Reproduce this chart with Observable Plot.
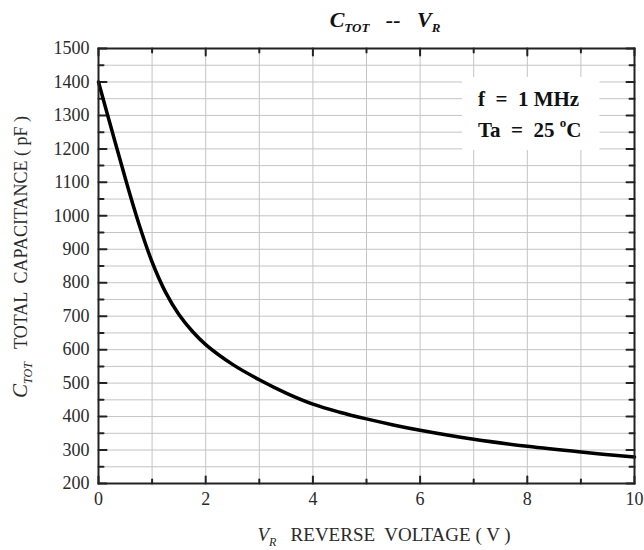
<!DOCTYPE html>
<html>
<head>
<meta charset="utf-8">
<script src="https://cdn.jsdelivr.net/npm/d3@7"></script>
<script src="https://cdn.jsdelivr.net/npm/@observablehq/plot@0.6"></script>
<style>
  html, body { margin: 0; padding: 0; background: #fff; }
</style>
</head>
<body>
<div id="chart"></div>
<script>
// ---- data ----
const voltage     = [0, 0.25, 0.5, 0.75, 1, 1.25, 1.5, 1.75, 2, 2.5, 3, 3.5, 4, 4.5, 5, 5.5, 6, 7, 8, 9, 10];
const capacitance = [1400, 1255, 1112, 978, 862, 772, 705, 655, 615, 556, 510, 470, 437, 413, 393, 375, 359, 332, 311, 294, 279];

const xMajorTicks = [0, 2, 4, 6, 8, 10];
const xMinorTicks = [1, 3, 5, 7, 9];
const yMajorTicks = [200, 300, 400, 500, 600, 700, 800, 900, 1000, 1100, 1200, 1300, 1400, 1500];
const yMinorTicks = [250, 350, 450, 550, 650, 750, 850, 950, 1050, 1150, 1250, 1350, 1450];
const xGrid = [1, 2, 3, 4, 5, 6, 7, 8, 9];
const yGrid = [250, 300, 350, 400, 450, 500, 550, 600, 650, 700, 750, 800, 850, 900, 950, 1000, 1050, 1100, 1150, 1200, 1250, 1300, 1350, 1400, 1450];

const titleParts = ["C", "TOT", "--", "V", "R"];
const xLabelParts = ["V", "R", "REVERSE  VOLTAGE ( V )"];
const yLabelParts = ["C", "TOT", "TOTAL  CAPACITANCE ( pF )"];
const legendLines = ["f  =  1 MHz", "Ta  =  25 ", "o", "C"];

const data = voltage.map((v, i) => ({v, c: capacitance[i]}));

const W = 644, H = 550;
const mL = 98, mR = 10, mT = 48, mB = 67;
const serif = "'Liberation Serif', 'DejaVu Serif', serif";
const gridColor = "#c4c4c4";
const axisColor = "#222";

// a plain straight tick, drawn by Plot's vector mark
const tickShape = {draw(context, l) { context.moveTo(0, 0); context.lineTo(0, -l); }};
const tickOpts = {shape: tickShape, anchor: "start", stroke: axisColor, strokeWidth: 2};

const svg = Plot.plot({
  width: W, height: H,
  marginLeft: mL, marginRight: mR, marginTop: mT, marginBottom: mB,
  style: {fontFamily: serif, fontSize: "18px", color: "#2a2a2a", background: "#fff"},
  x: {domain: [0, 10]},
  y: {domain: [200, 1500]},
  marks: [
    Plot.gridX(xGrid, {stroke: gridColor, strokeOpacity: 1, strokeWidth: 1}),
    Plot.gridY(yGrid, {stroke: gridColor, strokeOpacity: 1, strokeWidth: 1}),
    // tick labels
    Plot.axisX(xMajorTicks, {anchor: "bottom", tickSize: 0, tickPadding: 9, label: null, fontSize: 18}),
    Plot.axisY(yMajorTicks, {anchor: "left", tickSize: 0, tickPadding: 9, label: null, fontSize: 18, tickFormat: "d"}),
    // inward ticks
    Plot.vector(xMajorTicks, {x: d => d, frameAnchor: "bottom", length: 7, rotate: 0, ...tickOpts}),
    Plot.vector(xMinorTicks, {x: d => d, frameAnchor: "bottom", length: 4, rotate: 0, ...tickOpts}),
    Plot.vector(xMajorTicks, {x: d => d, frameAnchor: "top", length: 7, rotate: 180, ...tickOpts}),
    Plot.vector(xMinorTicks, {x: d => d, frameAnchor: "top", length: 4, rotate: 180, ...tickOpts}),
    Plot.vector(yMajorTicks, {y: d => d, frameAnchor: "left", length: 8, rotate: 90, ...tickOpts}),
    Plot.vector(yMinorTicks, {y: d => d, frameAnchor: "left", length: 5, rotate: 90, ...tickOpts}),
    Plot.vector(yMajorTicks, {y: d => d, frameAnchor: "right", length: 8, rotate: -90, ...tickOpts}),
    Plot.vector(yMinorTicks, {y: d => d, frameAnchor: "right", length: 5, rotate: -90, ...tickOpts}),
    Plot.line(data, {x: "v", y: "c", curve: "catmull-rom", stroke: "#000", strokeWidth: 3.5}),
    Plot.frame({stroke: axisColor, strokeWidth: 2})
  ]
});

const s = d3.select(svg);

// legend box (white background, drawn over the grid)
const lg = s.append("g").attr("font-family", serif).attr("font-weight", "bold").attr("font-size", 21)
  .attr("fill", "#111").attr("text-anchor", "start");
const legX = W - mR - 156, legY = mT + 58;
const rect = lg.append("rect").attr("fill", "#fff");
const t1 = lg.append("text").attr("x", legX).attr("y", legY).style("white-space", "pre").text(legendLines[0]);
const t2 = lg.append("text").attr("x", legX).attr("y", legY + 31).style("white-space", "pre");
t2.append("tspan").text(legendLines[1]);
t2.append("tspan").attr("font-size", 13).attr("dy", -10).text(legendLines[2]);
t2.append("tspan").attr("dy", 10).text(legendLines[3]);

// title
const title = s.append("text")
  .attr("x", 385).attr("y", 27).attr("text-anchor", "middle")
  .attr("font-family", serif).attr("font-weight", "bold").attr("font-style", "italic")
  .attr("font-size", 22).attr("fill", "#111").style("white-space", "pre");
title.append("tspan").text(titleParts[0]);
title.append("tspan").attr("font-size", 13).attr("dy", 5).text(titleParts[1]);
title.append("tspan").attr("dy", -5).text("   " + titleParts[2] + "   ");
title.append("tspan").text(titleParts[3]);
title.append("tspan").attr("font-size", 13).attr("dy", 5).text(titleParts[4]);

// x label
const xl = s.append("text")
  .attr("x", 384).attr("y", H - 9).attr("text-anchor", "middle")
  .attr("font-family", serif).attr("font-size", 19).attr("fill", "#2a2a2a").style("white-space", "pre");
xl.append("tspan").attr("font-style", "italic").text(xLabelParts[0]);
xl.append("tspan").attr("font-style", "italic").attr("font-size", 12).attr("dy", 5).text(xLabelParts[1]);
xl.append("tspan").attr("dy", -5).text("   " + xLabelParts[2]);

// y label
const yl = s.append("text")
  .attr("transform", `translate(27,${257}) rotate(-90)`).attr("text-anchor", "middle")
  .attr("font-family", serif).attr("font-size", 18).attr("fill", "#2a2a2a").style("white-space", "pre");
yl.append("tspan").attr("font-style", "italic").attr("font-size", 21).text(yLabelParts[0]);
yl.append("tspan").attr("font-style", "italic").attr("font-size", 12).attr("dy", 5).text(yLabelParts[1]);
yl.append("tspan").attr("dy", -5).text("   " + yLabelParts[2]);

document.getElementById("chart").appendChild(svg);

// size the legend's white box from the laid-out text
{
  const bb = t1.node().getBBox(), bc = t2.node().getBBox();
  const x0 = Math.min(bb.x, bc.x), y0 = bb.y, x1 = Math.max(bb.x + bb.width, bc.x + bc.width), y1 = bc.y + bc.height;
  rect.attr("x", x0 - 16).attr("y", y0 - 10).attr("width", x1 - x0 + 34).attr("height", y1 - y0 + 18);
}
</script>
</body>
</html>
